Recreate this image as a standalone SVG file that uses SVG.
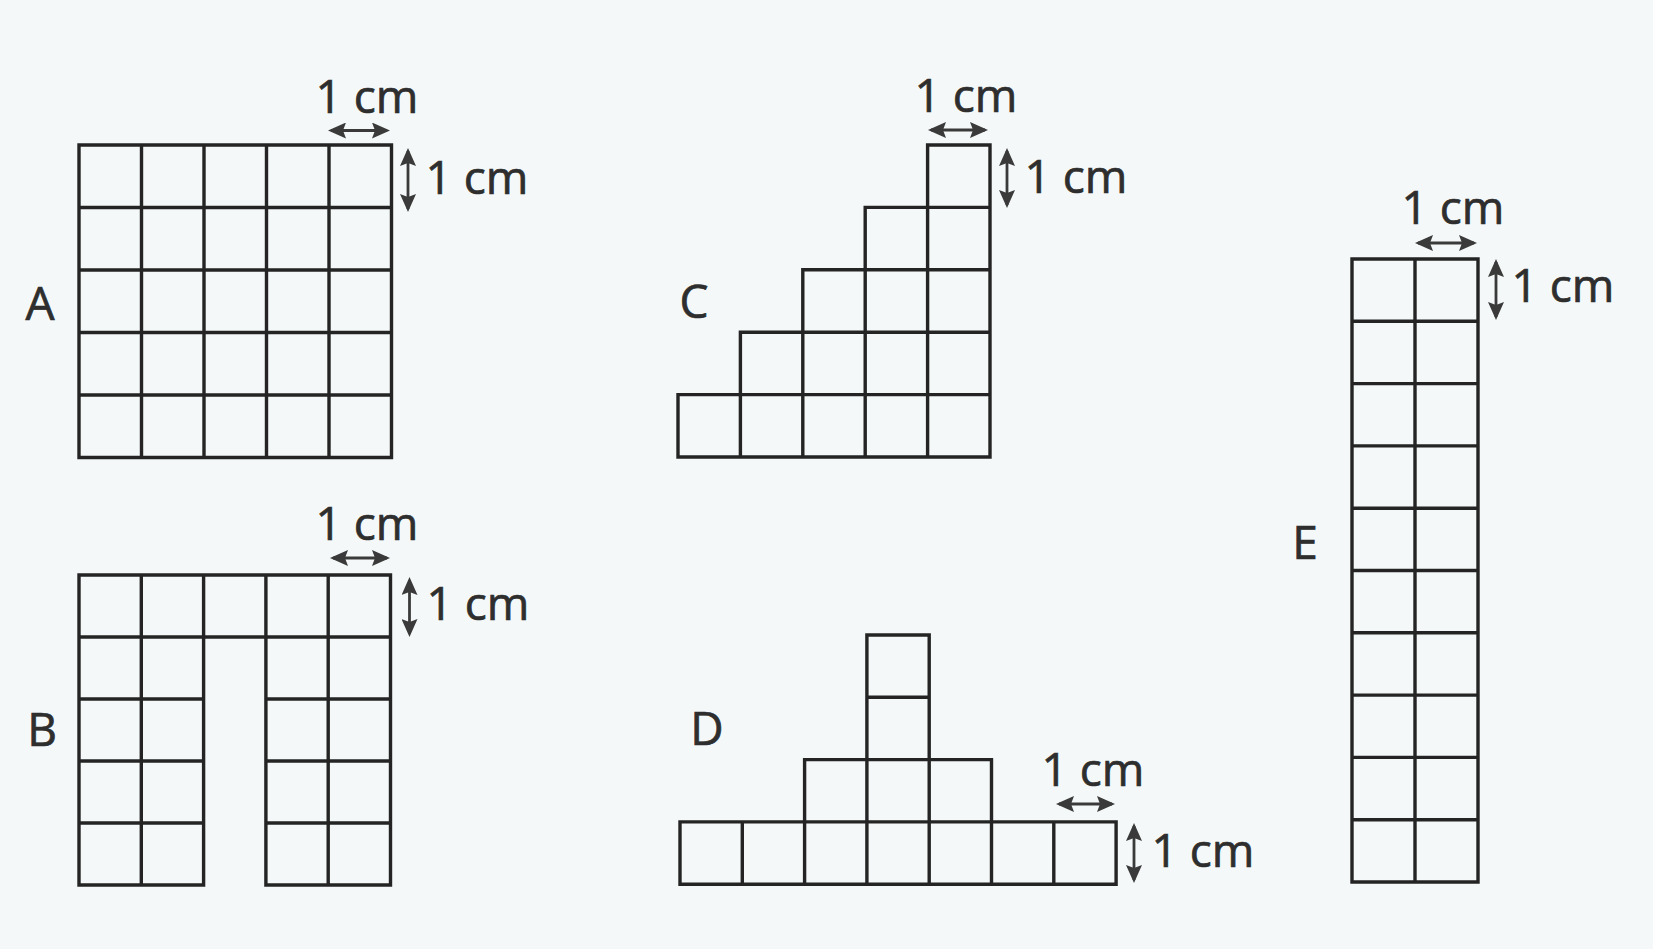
<svg xmlns="http://www.w3.org/2000/svg" width="1653" height="949" viewBox="0 0 1653 949">
<defs>
<style>
.g{fill:none;stroke:#242424;stroke-width:3.4;stroke-linejoin:miter}
.a{fill:none;stroke:#3a3a3a;stroke-width:2.8;marker-start:url(#ah);marker-end:url(#ah)}
.t{font-family:"Open Sans","Liberation Sans",sans-serif;font-size:46px;fill:#2e2e2e;stroke:#2e2e2e;stroke-width:0.7;text-anchor:middle}
</style>
<marker id="ah" markerUnits="userSpaceOnUse" viewBox="0 0 18 16" refX="15" refY="8" markerWidth="18" markerHeight="16" orient="auto-start-reverse">
<path d="M0,0 L18,8 L0,16 L3,8 Z" fill="#3a3a3a"/>
</marker>
</defs>
<rect width="1653" height="949" fill="#f4f8f8"/>

<g id="figA">
<path class="g" d="M79,145 H391.5 V457.5 H79 Z M141.5,145 V457.5 M204,145 V457.5 M266.5,145 V457.5 M329,145 V457.5 M79,207.5 H391.5 M79,270 H391.5 M79,332.5 H391.5 M79,395 H391.5"/>
<text class="t" x="40" y="320">A</text>
<text class="t" x="367" y="113">1 cm</text>
<text class="t" x="477" y="194">1 cm</text>
</g>

<g id="figB">
<path class="g" d="M79,575 H390.5 V885 H265.9 V637 H203.6 V885 H79 Z M141.3,575 V885 M203.6,575 V637 M265.9,575 V637 M328.2,575 V885 M79,637 H390.5 M79,699 H203.6 M265.9,699 H390.5 M79,761 H203.6 M265.9,761 H390.5 M79,823 H203.6 M265.9,823 H390.5"/>
<text class="t" x="42" y="746">B</text>
<text class="t" x="367" y="540">1 cm</text>
<text class="t" x="478" y="620">1 cm</text>
</g>

<g id="figC">
<path class="g" d="M678,457 H990 V145 H927.6 V207.4 H865.2 V269.8 H802.8 V332.2 H740.4 V394.6 H678 Z M740.4,394.6 V457 M802.8,332.2 V457 M865.2,269.8 V457 M927.6,207.4 V457 M678,394.6 H990 M740.4,332.2 H990 M802.8,269.8 H990 M865.2,207.4 H990"/>
<text class="t" x="694" y="318">C</text>
<text class="t" x="966" y="112">1 cm</text>
<text class="t" x="1076" y="193">1 cm</text>
</g>

<g id="figD">
<path class="g" d="M680,821.9 H804.6 V759.6 H866.9 V635 H929.2 V759.6 H991.5 V821.9 H1116.1 V884.2 H680 Z M742.3,821.9 V884.2 M804.6,759.6 V884.2 M866.9,635 V884.2 M929.2,635 V884.2 M991.5,759.6 V884.2 M1053.8,821.9 V884.2 M680,821.9 H1116.1 M804.6,759.6 H991.5 M866.9,697.3 H929.2"/>
<text class="t" x="707" y="745">D</text>
<text class="t" x="1093" y="786">1 cm</text>
<text class="t" x="1203" y="867">1 cm</text>
</g>

<g id="figE">
<path class="g" d="M1352,259 H1478 V882 H1352 Z M1415,259 V882 M1352,321.3 H1478 M1352,383.6 H1478 M1352,445.9 H1478 M1352,508.2 H1478 M1352,570.5 H1478 M1352,632.8 H1478 M1352,695.1 H1478 M1352,757.4 H1478 M1352,819.7 H1478"/>
<text class="t" x="1305" y="559">E</text>
<text class="t" x="1453" y="224">1 cm</text>
<text class="t" x="1563" y="302">1 cm</text>
</g>

<g id="connectors">
<line class="a" x1="331" y1="130.5" x2="387" y2="130.5"/>
<line class="a" x1="408" y1="151" x2="408" y2="209"/>
<line class="a" x1="333" y1="558" x2="387" y2="558"/>
<line class="a" x1="409.5" y1="580" x2="409.5" y2="634"/>
<line class="a" x1="931" y1="130" x2="985" y2="130"/>
<line class="a" x1="1007" y1="151" x2="1007" y2="205"/>
<line class="a" x1="1059" y1="804" x2="1112" y2="804"/>
<line class="a" x1="1134" y1="826" x2="1134" y2="880"/>
<line class="a" x1="1418" y1="243" x2="1474" y2="243"/>
<line class="a" x1="1496" y1="262" x2="1496" y2="317"/>
</g>
</svg>
